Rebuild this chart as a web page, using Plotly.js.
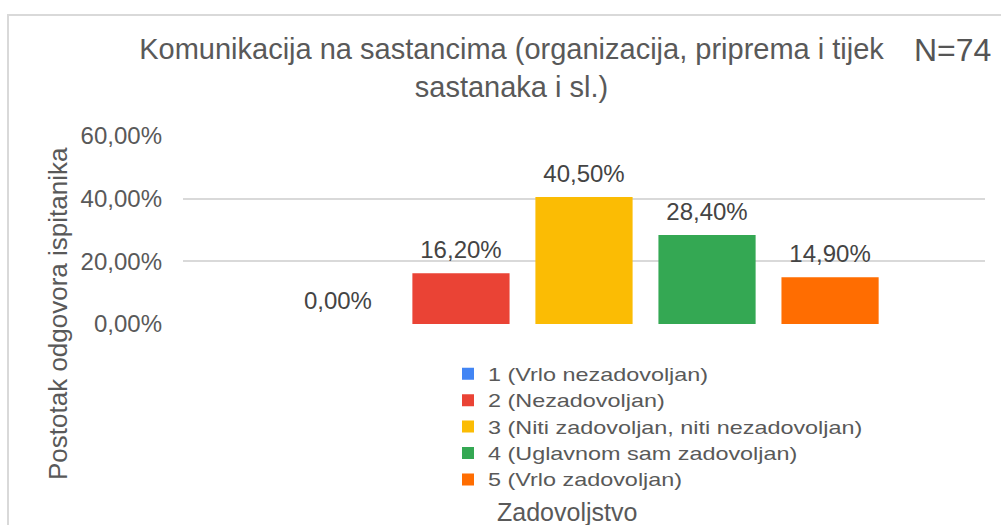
<!DOCTYPE html>
<html>
<head>
<meta charset="utf-8">
<script src="https://cdn.plot.ly/plotly-3.0.1.min.js"></script>
<style>
html,body{margin:0;padding:0;background:#fff;}
#chart{width:1001px;height:525px;}
.legendtext{transform-box:fill-box;transform-origin:left center;transform:scaleX(1.3);}
</style>
</head>
<body>
<div id="chart"></div>
<script>
// Data
const seriesNames = [
  "1 (Vrlo nezadovoljan)",
  "2 (Nezadovoljan)",
  "3 (Niti zadovoljan, niti nezadovoljan)",
  "4 (Uglavnom sam zadovoljan)",
  "5 (Vrlo zadovoljan)"
];
const seriesValues = [0.0, 0.162, 0.405, 0.284, 0.149];
const seriesColors = ["#4285F4", "#EA4335", "#FBBC04", "#34A853", "#FF6D01"];
const category = [""];
const yTickValues = [0, 0.2, 0.4, 0.6];

const chartTitle = "Komunikacija na sastancima (organizacija, priprema i tijek<br>sastanaka i sl.)";
const xTitle = "Zadovoljstvo";
const yTitle = "Postotak odgovora ispitanika";
const noteText = "N=74";

const FONT = "Liberation Sans, Arial, sans-serif";
const TXT = "#595959";

const barTraces = seriesNames.map((name, i) => ({
  type: "bar",
  name: name,
  x: category,
  y: [seriesValues[i]],
  marker: {color: seriesColors[i]},
  hoverinfo: "skip"
}));

// value labels, grouped alongside the bars
const labelTraces = seriesNames.map((name, i) => ({
  type: "scatter",
  mode: "markers+text",
  name: name + " label",
  showlegend: false,
  x: category,
  y: [seriesValues[i]],
  marker: {size: 13, opacity: 0, color: seriesColors[i]},
  texttemplate: "%{y:.2%}",
  textposition: "top center",
  cliponaxis: false,
  textfont: {family: FONT, size: 24, color: "#444444"},
  hoverinfo: "skip"
}));

const layout = {
  width: 1001,
  height: 525,
  margin: {l: 183, r: 16, t: 136, b: 201},
  paper_bgcolor: "#ffffff",
  plot_bgcolor: "#ffffff",
  separators: ",.",
  font: {family: FONT, color: TXT},
  barmode: "group",
  bargap: 0.233,
  bargroupgap: 0.21,
  scattermode: "group",
  scattergap: 0.233,
  showlegend: true,
  title: {
    text: chartTitle,
    font: {family: FONT, size: 29, color: TXT},
    xref: "container", x: 0.511, xanchor: "center",
    yref: "container", y: 0.888, yanchor: "top"
  },
  xaxis: {
    type: "category",
    range: [-0.5, 0.5],
    showticklabels: false,
    showgrid: false,
    zeroline: false,
    showline: false,
    ticks: ""
  },
  yaxis: {
    range: [0, 0.6],
    tickvals: yTickValues,
    tickformat: ".2%",
    showgrid: true,
    gridcolor: "#d9d9d9",
    gridwidth: 2,
    zeroline: false,
    showline: false,
    ticks: "",
    ticklabelstandoff: 20,
    tickfont: {family: FONT, size: 24, color: TXT}
  },
  legend: {
    x: (448 - 183) / 802, xanchor: "left",
    y: -0.168, yanchor: "top",
    orientation: "v",
    font: {family: FONT, size: 18, color: TXT},
    itemwidth: 30,
    tracegroupgap: 0,
    bgcolor: "rgba(0,0,0,0)"
  },
  annotations: [
    {
      text: yTitle, xref: "paper", yref: "paper",
      x: (58 - 183) / 802, y: (324 - 314) / 188,
      xanchor: "center", yanchor: "middle",
      textangle: -90, showarrow: false,
      font: {family: FONT, size: 26, color: TXT}
    },
    {
      text: xTitle, xref: "paper", yref: "paper",
      x: (567 - 183) / 802, y: (324 - 512) / 188,
      xanchor: "center", yanchor: "middle",
      showarrow: false,
      font: {family: FONT, size: 25, color: TXT}
    },
    {
      text: noteText, xref: "paper", yref: "paper",
      x: (952 - 183) / 802, y: (324 - 50) / 188,
      xanchor: "center", yanchor: "middle",
      showarrow: false,
      font: {family: FONT, size: 32, color: "#555555"}
    }
  ],
  shapes: [
    {
      type: "rect", xref: "paper", yref: "paper",
      x0: (8 - 183) / 802, x1: (1010 - 183) / 802,
      y0: (324 - 540) / 188, y1: (324 - 15) / 188,
      line: {color: "#d9d9d9", width: 2},
      fillcolor: "rgba(0,0,0,0)",
      layer: "below"
    }
  ]
};

Plotly.newPlot("chart", barTraces.concat(labelTraces), layout, {displayModeBar: false, staticPlot: true});
</script>
</body>
</html>
